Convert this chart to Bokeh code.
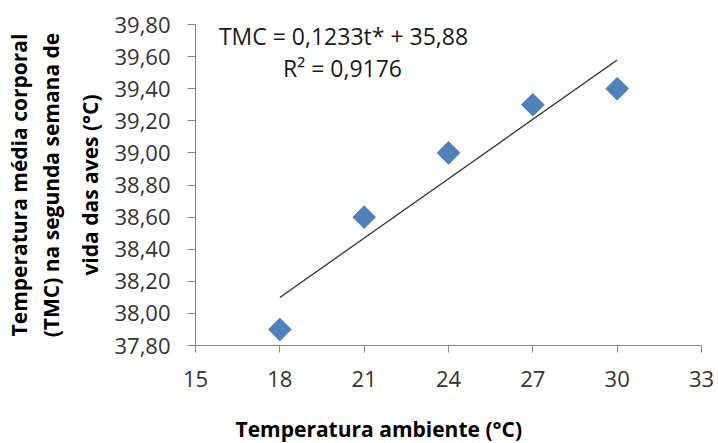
import math
from bokeh.plotting import figure
from bokeh.models import Range1d, FixedTicker, CustomJSTickFormatter, Label, Title, ColumnDataSource
from bokeh.embed import file_html
from bokeh.resources import INLINE

# ---- data ----
temp_ambiente = [18, 21, 24, 27, 30]
tmc = [37.90, 38.60, 39.00, 39.30, 39.40]
slope = 0.1233
intercept = 35.88
x_ticks = [15, 18, 21, 24, 27, 30, 33]
y_ticks = [37.8, 38.0, 38.2, 38.4, 38.6, 38.8, 39.0, 39.2, 39.4, 39.6, 39.8]
eq_text = "TMC = 0,1233t* + 35,88"
r2_text = "R² = 0,9176"
x_title = "Temperatura ambiente (°C)"
y_title_lines = ["Temperatura média corporal", "(TMC) na segunda semana de", "vida das aves (°C)"]

FONT = "Open Sans"
W, H = 718, 443
L, R, T, B = 195, 17, 24, 98

p = figure(width=W, height=H, output_backend="svg", toolbar_location=None,
           x_range=Range1d(15, 33), y_range=Range1d(37.8, 39.8),
           min_border_left=L, min_border_right=R, min_border_top=T, min_border_bottom=B)
p.outline_line_color = None
p.grid.visible = False
p.background_fill_color = "white"
p.border_fill_color = "white"

for ax in (p.xaxis[0], p.yaxis[0]):
    ax.axis_line_color = "#868686"
    ax.axis_line_width = 1
    ax.major_tick_line_color = "#868686"
    ax.major_tick_in = 0
    ax.minor_tick_line_color = None
    ax.major_label_text_font = FONT
    ax.major_label_text_font_size = "22px"
    ax.major_label_text_color = "#333333"

p.xaxis[0].ticker = FixedTicker(ticks=x_ticks)
p.xaxis[0].major_tick_out = 7
p.xaxis[0].major_label_standoff = 18
p.yaxis[0].ticker = FixedTicker(ticks=y_ticks)
p.yaxis[0].major_tick_out = 8
p.yaxis[0].major_label_standoff = 17
p.yaxis[0].formatter = CustomJSTickFormatter(code="return tick.toFixed(2).replace('.', ',');")

# trend line from the chart's own equation
tx = [min(temp_ambiente), max(temp_ambiente)]
ty = [slope * v + intercept for v in tx]
p.line(tx, ty, line_color="#262626", line_width=1.2)

src = ColumnDataSource(dict(x=temp_ambiente, y=tmc))
p.scatter("x", "y", source=src, marker="square", size=16, angle=math.pi / 4,
          fill_color="#4F81BD", line_color="#4F81BD")

# equation annotation
p.add_layout(Label(x=148, y=310, x_units="screen", y_units="screen", text=eq_text,
                   text_font=FONT, text_font_size="23px", text_color="#1a1a1a",
                   text_align="center", text_baseline="middle"))
p.add_layout(Label(x=147, y=278, x_units="screen", y_units="screen", text=r2_text,
                   text_font=FONT, text_font_size="23px", text_color="#1a1a1a",
                   text_align="center", text_baseline="middle"))

# x title (leading empty line pushes it down inside its panel)
p.add_layout(Title(text="\n" + x_title, align="left", offset=40, standoff=0,
                   text_font=FONT, text_font_style="bold", text_font_size="21px",
                   text_line_height=0.85, text_color="black"), "below")

# y title (three lines, nearest to axis first)
for i, line in enumerate(reversed(y_title_lines)):
    p.add_layout(Title(text=line, align="center", standoff=16 if i == 0 else 2,
                       text_font=FONT, text_font_style="bold", text_font_size="21px",
                       text_color="black"), "left")

open("out.html", "w").write(file_html(p, INLINE))
